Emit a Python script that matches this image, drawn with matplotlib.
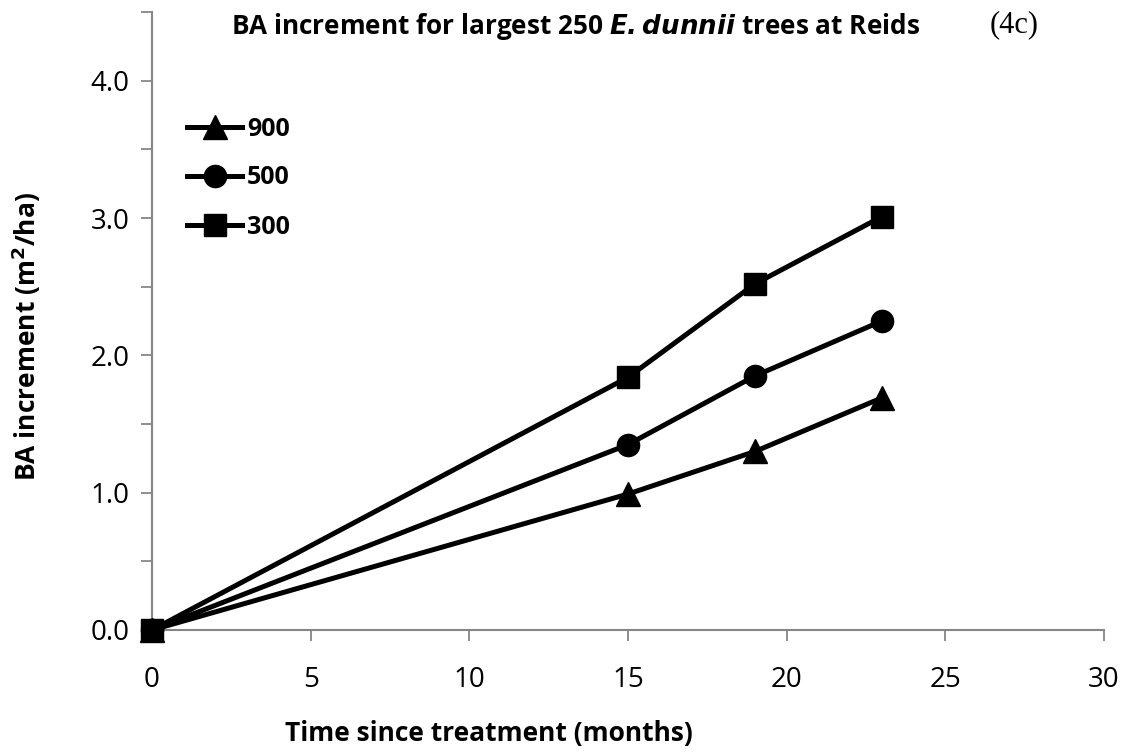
import matplotlib
matplotlib.use("Agg")
import matplotlib.pyplot as plt
from matplotlib.ticker import MultipleLocator, FixedLocator

months = [0, 15, 19, 23]
series_labels = ["900", "500", "300"]
ba_900 = [0.0, 0.99, 1.30, 1.69]
ba_500 = [0.0, 1.35, 1.85, 2.25]
ba_300 = [0.0, 1.84, 2.52, 3.01]
x_ticks = [0, 5, 10, 15, 20, 25, 30]
y_labels = [0.0, 1.0, 2.0, 3.0, 4.0]

plt.rcParams['font.family'] = ['Open Sans', 'DejaVu Sans']

fig = plt.figure(figsize=(11.28, 7.53), dpi=100)
ax = fig.add_axes([152/1128, 1-630/753, (1104-152)/1128, (630-12)/753])

markers = ['^', 'o', 's']
msizes = [17, 16, 16]
for vals, lab, m, ms in zip([ba_900, ba_500, ba_300], series_labels, markers, msizes):
    ax.plot(months, vals, color='black', lw=3.6, marker=m, markersize=ms,
            label=lab, clip_on=False, zorder=3)

ax.set_xlim(0, 30)
ax.set_ylim(0, 4.5)
ax.xaxis.set_major_locator(FixedLocator(x_ticks))
ax.yaxis.set_major_locator(FixedLocator(y_labels))
ax.yaxis.set_minor_locator(MultipleLocator(0.5))
ax.set_yticklabels([f"{v:.1f}" for v in y_labels])

gray = '#868686'
for s in ['top', 'right']:
    ax.spines[s].set_visible(False)
for s in ['left', 'bottom']:
    ax.spines[s].set_color(gray)
    ax.spines[s].set_linewidth(1.5)
ax.tick_params(axis='both', which='both', direction='out', length=8, width=1.3,
               color=gray, labelsize=20, labelcolor='black')
ax.tick_params(axis='x', pad=18)
ax.tick_params(axis='y', pad=8)

fig.text(489/1128, 1-733/753, "Time since treatment (months)", fontsize=19,
         fontweight='bold', ha='center', va='center')
fig.text(26/1128, 1-336/753, "BA increment (m$^\\mathbf{2}$/ha)", fontsize=19,
         fontweight='bold', ha='center', va='center', rotation=90)

fig.text(576/1128, 1-27/753, "BA increment for largest 250 $\\mathbfit{E. dunnii}$ trees at Reids",
         ha='center', va='center', fontsize=18.8, fontweight='bold')
fig.text(1014/1128, 1-25/753, "(4c)", ha='center', va='center', fontsize=22,
         family='Liberation Serif')

leg = ax.legend(loc='upper left', bbox_to_anchor=(35/952, (630-116.5)/618),
                frameon=False, prop={'weight': 'bold', 'size': 18},
                handlelength=2.2, handletextpad=0.2, labelspacing=0.96,
                borderaxespad=0, borderpad=0)

fig.savefig("out.png", dpi=100, facecolor='white')
